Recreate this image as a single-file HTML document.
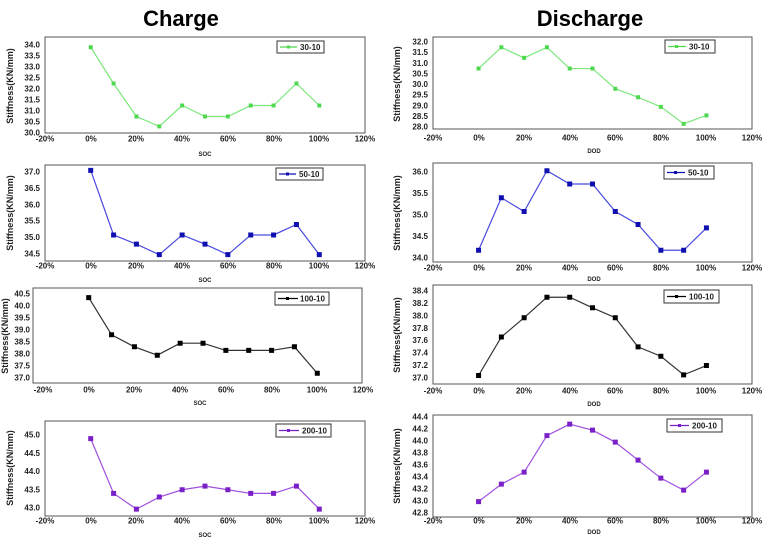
<!DOCTYPE html>
<html><head><meta charset="utf-8"><style>
html,body{margin:0;padding:0;background:#fff}
svg text{font-family:"Liberation Sans",sans-serif;font-weight:bold;fill:#222}
.t{font-size:8px}
.yl{text-anchor:end;dominant-baseline:central}
.xl{text-anchor:middle;dominant-baseline:central}
.ttl{font-size:22px;text-anchor:middle;fill:#000}
.ax{font-size:9px;text-anchor:middle}
.lg{font-size:8px}
</style></head><body>
<svg width="780" height="544" viewBox="0 0 780 544" xmlns="http://www.w3.org/2000/svg">
<text class="ttl" x="181" y="26">Charge</text>
<text class="ttl" x="590" y="26">Discharge</text>

<!-- L1 -->
<rect x="45" y="37" width="320" height="96" fill="none" stroke="#555" stroke-width="1"/>
<svg x="45" y="37" width="320" height="96" viewBox="-20 -34.364 140 4.364" preserveAspectRatio="none" overflow="visible">
<polyline fill="none" stroke="#7be87b" stroke-width="1.2" vector-effect="non-scaling-stroke" points="0,-33.9 10,-32.25 20,-30.75 30,-30.3 40,-31.25 50,-30.75 60,-30.75 70,-31.25 80,-31.25 90,-32.25 100,-31.25"/>
<path fill="none" stroke="#4fd84f" stroke-width="4" stroke-linecap="square" vector-effect="non-scaling-stroke" d="M0 -33.9h0M10 -32.25h0M20 -30.75h0M30 -30.3h0M40 -31.25h0M50 -30.75h0M60 -30.75h0M70 -31.25h0M80 -31.25h0M90 -32.25h0M100 -31.25h0"/>
</svg>
<g class="t yl"><text x="40" y="45">34.0</text><text x="40" y="56">33.5</text><text x="40" y="67">33.0</text><text x="40" y="78">32.5</text><text x="40" y="89">32.0</text><text x="40" y="100">31.5</text><text x="40" y="111">31.0</text><text x="40" y="122">30.5</text><text x="40" y="133">30.0</text></g>
<g class="t xl"><text x="45" y="139">-20%</text><text x="91" y="139">0%</text><text x="136" y="139">20%</text><text x="182" y="139">40%</text><text x="228" y="139">60%</text><text x="274" y="139">80%</text><text x="319" y="139">100%</text><text x="365" y="139">120%</text></g>
<text class="t ax" x="205" y="156" style="font-size:6px">SOC</text>
<text class="ax" transform="translate(13,86) rotate(-90)">Stiffness(KN/mm)</text>
<rect x="277" y="41" width="47" height="12" fill="#fff" stroke="#333"/>
<line x1="280" y1="47" x2="297" y2="47" stroke="#4fd84f" stroke-width="1.2"/><rect x="287" y="45.5" width="3" height="3" fill="#4fd84f"/>
<text class="lg" x="300" y="50">30-10</text>

<!-- L2 -->
<rect x="45" y="165" width="320" height="96" fill="none" stroke="#555"/>
<svg x="45" y="165" width="320" height="96" viewBox="-20 -37.213 140 2.926" preserveAspectRatio="none" overflow="visible">
<polyline fill="none" stroke="#4a4ae0" stroke-width="1.2" vector-effect="non-scaling-stroke" points="0,-37.05 10,-35.08 20,-34.8 30,-34.48 40,-35.08 50,-34.8 60,-34.48 70,-35.08 80,-35.08 90,-35.4 100,-34.48"/>
<path fill="none" stroke="#1010b0" stroke-width="5" stroke-linecap="square" vector-effect="non-scaling-stroke" d="M0 -37.05h0M10 -35.08h0M20 -34.8h0M30 -34.48h0M40 -35.08h0M50 -34.8h0M60 -34.48h0M70 -35.08h0M80 -35.08h0M90 -35.4h0M100 -34.48h0"/>
</svg>
<g class="t yl"><text x="40" y="172">37.0</text><text x="40" y="188.4">36.5</text><text x="40" y="204.8">36.0</text><text x="40" y="221.2">35.5</text><text x="40" y="237.6">35.0</text><text x="40" y="254">34.5</text></g>
<g class="t xl"><text x="45" y="266">-20%</text><text x="91" y="266">0%</text><text x="136" y="266">20%</text><text x="182" y="266">40%</text><text x="228" y="266">60%</text><text x="274" y="266">80%</text><text x="319" y="266">100%</text><text x="365" y="266">120%</text></g>
<text class="t ax" x="205" y="282" style="font-size:6px">SOC</text>
<text class="ax" transform="translate(13,213) rotate(-90)">Stiffness(KN/mm)</text>
<rect x="276" y="168" width="47" height="12" fill="#fff" stroke="#333"/>
<line x1="279" y1="174" x2="296" y2="174" stroke="#1010b0" stroke-width="1.2"/><rect x="286" y="172.5" width="3" height="3" fill="#1010b0"/>
<text class="lg" x="299" y="177">50-10</text>

<!-- L3 -->
<rect x="33" y="288" width="329" height="95" fill="none" stroke="#555"/>
<svg x="43" y="288" width="320" height="95" viewBox="-20 -40.75 140 3.958" preserveAspectRatio="none" overflow="visible">
<polyline fill="none" stroke="#333" stroke-width="1.2" vector-effect="non-scaling-stroke" points="0,-40.35 10,-38.8 20,-38.3 30,-37.95 40,-38.45 50,-38.45 60,-38.15 70,-38.15 80,-38.15 90,-38.3 100,-37.2"/>
<path fill="none" stroke="#000" stroke-width="5" stroke-linecap="square" vector-effect="non-scaling-stroke" d="M0 -40.35h0M10 -38.8h0M20 -38.3h0M30 -37.95h0M40 -38.45h0M50 -38.45h0M60 -38.15h0M70 -38.15h0M80 -38.15h0M90 -38.3h0M100 -37.2h0"/>
</svg>
<g class="t yl"><text x="30" y="294">40.5</text><text x="30" y="306">40.0</text><text x="30" y="318">39.5</text><text x="30" y="330">39.0</text><text x="30" y="342">38.5</text><text x="30" y="354">38.0</text><text x="30" y="366">37.5</text><text x="30" y="378">37.0</text></g>
<g class="t xl"><text x="43" y="390">-20%</text><text x="89" y="390">0%</text><text x="134" y="390">20%</text><text x="180" y="390">40%</text><text x="226" y="390">60%</text><text x="272" y="390">80%</text><text x="317" y="390">100%</text><text x="363" y="390">120%</text></g>
<text class="t ax" x="200" y="405" style="font-size:6px">SOC</text>
<text class="ax" transform="translate(8,336) rotate(-90)">Stiffness(KN/mm)</text>
<rect x="275" y="292" width="54" height="13" fill="#fff" stroke="#333"/>
<line x1="278" y1="298.5" x2="298" y2="298.5" stroke="#000" stroke-width="1.2"/><rect x="286" y="297" width="3" height="3" fill="#000"/>
<text class="lg" x="300" y="301.5">100-10</text>

<!-- L4 -->
<rect x="45" y="421" width="320" height="95" fill="none" stroke="#555"/>
<svg x="45" y="421" width="320" height="95" viewBox="-20 -45.384 140 2.603" preserveAspectRatio="none" overflow="visible">
<polyline fill="none" stroke="#a050e0" stroke-width="1.2" vector-effect="non-scaling-stroke" points="0,-44.9 10,-43.4 20,-42.97 30,-43.3 40,-43.5 50,-43.6 60,-43.5 70,-43.4 80,-43.4 90,-43.6 100,-42.97"/>
<path fill="none" stroke="#7a20c8" stroke-width="5" stroke-linecap="square" vector-effect="non-scaling-stroke" d="M0 -44.9h0M10 -43.4h0M20 -42.97h0M30 -43.3h0M40 -43.5h0M50 -43.6h0M60 -43.5h0M70 -43.4h0M80 -43.4h0M90 -43.6h0M100 -42.97h0"/>
</svg>
<g class="t yl"><text x="40" y="435">45.0</text><text x="40" y="453.3">44.5</text><text x="40" y="471.5">44.0</text><text x="40" y="489.8">43.5</text><text x="40" y="508">43.0</text></g>
<g class="t xl"><text x="45" y="521">-20%</text><text x="91" y="521">0%</text><text x="136" y="521">20%</text><text x="182" y="521">40%</text><text x="228" y="521">60%</text><text x="274" y="521">80%</text><text x="319" y="521">100%</text><text x="365" y="521">120%</text></g>
<text class="t ax" x="205" y="537" style="font-size:6px">SOC</text>
<text class="ax" transform="translate(13,468) rotate(-90)">Stiffness(KN/mm)</text>
<rect x="276" y="424" width="55" height="13" fill="#fff" stroke="#333"/>
<line x1="279" y1="430.5" x2="299" y2="430.5" stroke="#7a20c8" stroke-width="1.2"/><rect x="287" y="429" width="3" height="3" fill="#7a20c8"/>
<text class="lg" x="302" y="433.5">200-10</text>

<!-- R1 -->
<rect x="433" y="37" width="319" height="92" fill="none" stroke="#555"/>
<svg x="433" y="37" width="319" height="92" viewBox="-20 -32.235 140 4.329" preserveAspectRatio="none" overflow="visible">
<polyline fill="none" stroke="#7be87b" stroke-width="1.2" vector-effect="non-scaling-stroke" points="0,-30.75 10,-31.75 20,-31.25 30,-31.75 40,-30.75 50,-30.75 60,-29.8 70,-29.4 80,-28.95 90,-28.15 100,-28.55"/>
<path fill="none" stroke="#4fd84f" stroke-width="4" stroke-linecap="square" vector-effect="non-scaling-stroke" d="M0 -30.75h0M10 -31.75h0M20 -31.25h0M30 -31.75h0M40 -30.75h0M50 -30.75h0M60 -29.8h0M70 -29.4h0M80 -28.95h0M90 -28.15h0M100 -28.55h0"/>
</svg>
<g class="t yl"><text x="428" y="42">32.0</text><text x="428" y="52.6">31.5</text><text x="428" y="63.3">31.0</text><text x="428" y="73.9">30.5</text><text x="428" y="84.5">30.0</text><text x="428" y="95.1">29.5</text><text x="428" y="105.8">29.0</text><text x="428" y="116.4">28.5</text><text x="428" y="127">28.0</text></g>
<g class="t xl"><text x="433" y="138">-20%</text><text x="479" y="138">0%</text><text x="524" y="138">20%</text><text x="570" y="138">40%</text><text x="615" y="138">60%</text><text x="661" y="138">80%</text><text x="706" y="138">100%</text><text x="752" y="138">120%</text></g>
<text class="t ax" x="594" y="153" style="font-size:6px">DOD</text>
<text class="ax" transform="translate(400,84) rotate(-90)">Stiffness(KN/mm)</text>
<rect x="665" y="40" width="50" height="13" fill="#fff" stroke="#333"/>
<line x1="668" y1="46.5" x2="686" y2="46.5" stroke="#4fd84f" stroke-width="1.2"/><rect x="675" y="45" width="3" height="3" fill="#4fd84f"/>
<text class="lg" x="689" y="49.5">30-10</text>

<!-- R2 -->
<rect x="433" y="163" width="319" height="99" fill="none" stroke="#555"/>
<svg x="433" y="163" width="319" height="99" viewBox="-20 -36.209 140 2.302" preserveAspectRatio="none" overflow="visible">
<polyline fill="none" stroke="#4a4ae0" stroke-width="1.2" vector-effect="non-scaling-stroke" points="0,-34.18 10,-35.4 20,-35.08 30,-36.03 40,-35.72 50,-35.72 60,-35.08 70,-34.78 80,-34.18 90,-34.18 100,-34.7"/>
<path fill="none" stroke="#1010b0" stroke-width="5" stroke-linecap="square" vector-effect="non-scaling-stroke" d="M0 -34.18h0M10 -35.4h0M20 -35.08h0M30 -36.03h0M40 -35.72h0M50 -35.72h0M60 -35.08h0M70 -34.78h0M80 -34.18h0M90 -34.18h0M100 -34.7h0"/>
</svg>
<g class="t yl"><text x="428" y="172">36.0</text><text x="428" y="193.5">35.5</text><text x="428" y="215">35.0</text><text x="428" y="236.5">34.5</text><text x="428" y="258">34.0</text></g>
<g class="t xl"><text x="433" y="268">-20%</text><text x="479" y="268">0%</text><text x="524" y="268">20%</text><text x="570" y="268">40%</text><text x="615" y="268">60%</text><text x="661" y="268">80%</text><text x="706" y="268">100%</text><text x="752" y="268">120%</text></g>
<text class="t ax" x="594" y="281" style="font-size:6px">DOD</text>
<text class="ax" transform="translate(400,213) rotate(-90)">Stiffness(KN/mm)</text>
<rect x="664" y="166" width="50" height="13" fill="#fff" stroke="#333"/>
<line x1="667" y1="172.5" x2="685" y2="172.5" stroke="#1010b0" stroke-width="1.2"/><rect x="674" y="171" width="3" height="3" fill="#1010b0"/>
<text class="lg" x="688" y="175.5">50-10</text>

<!-- R3 -->
<rect x="433" y="285" width="319" height="99" fill="none" stroke="#555"/>
<svg x="433" y="285" width="319" height="99" viewBox="-20 -38.497 140 1.594" preserveAspectRatio="none" overflow="visible">
<polyline fill="none" stroke="#333" stroke-width="1.2" vector-effect="non-scaling-stroke" points="0,-37.04 10,-37.66 20,-37.97 30,-38.3 40,-38.3 50,-38.13 60,-37.97 70,-37.5 80,-37.35 90,-37.05 100,-37.2"/>
<path fill="none" stroke="#000" stroke-width="5" stroke-linecap="square" vector-effect="non-scaling-stroke" d="M0 -37.04h0M10 -37.66h0M20 -37.97h0M30 -38.3h0M40 -38.3h0M50 -38.13h0M60 -37.97h0M70 -37.5h0M80 -37.35h0M90 -37.05h0M100 -37.2h0"/>
</svg>
<g class="t yl"><text x="428" y="291">38.4</text><text x="428" y="303.4">38.2</text><text x="428" y="315.9">38.0</text><text x="428" y="328.3">37.8</text><text x="428" y="340.7">37.6</text><text x="428" y="353.1">37.4</text><text x="428" y="365.6">37.2</text><text x="428" y="378">37.0</text></g>
<g class="t xl"><text x="433" y="391">-20%</text><text x="479" y="391">0%</text><text x="524" y="391">20%</text><text x="570" y="391">40%</text><text x="615" y="391">60%</text><text x="661" y="391">80%</text><text x="706" y="391">100%</text><text x="752" y="391">120%</text></g>
<text class="t ax" x="594" y="406" style="font-size:6px">DOD</text>
<text class="ax" transform="translate(400,335) rotate(-90)">Stiffness(KN/mm)</text>
<rect x="664" y="290" width="55" height="13" fill="#fff" stroke="#333"/>
<line x1="667" y1="296.5" x2="686" y2="296.5" stroke="#000" stroke-width="1.2"/><rect x="675" y="295" width="3" height="3" fill="#000"/>
<text class="lg" x="689" y="299.5">100-10</text>

<!-- R4 -->
<rect x="433" y="415" width="319" height="102" fill="none" stroke="#555"/>
<svg x="433" y="415" width="319" height="102" viewBox="-20 -44.433 140 1.7" preserveAspectRatio="none" overflow="visible">
<polyline fill="none" stroke="#a050e0" stroke-width="1.2" vector-effect="non-scaling-stroke" points="0,-42.99 10,-43.28 20,-43.48 30,-44.09 40,-44.28 50,-44.18 60,-43.98 70,-43.68 80,-43.38 90,-43.18 100,-43.48"/>
<path fill="none" stroke="#7a20c8" stroke-width="5" stroke-linecap="square" vector-effect="non-scaling-stroke" d="M0 -42.99h0M10 -43.28h0M20 -43.48h0M30 -44.09h0M40 -44.28h0M50 -44.18h0M60 -43.98h0M70 -43.68h0M80 -43.38h0M90 -43.18h0M100 -43.48h0"/>
</svg>
<g class="t yl"><text x="428" y="417">44.4</text><text x="428" y="429">44.2</text><text x="428" y="441">44.0</text><text x="428" y="453">43.8</text><text x="428" y="465">43.6</text><text x="428" y="477">43.4</text><text x="428" y="489">43.2</text><text x="428" y="501">43.0</text><text x="428" y="513">42.8</text></g>
<g class="t xl"><text x="433" y="521">-20%</text><text x="479" y="521">0%</text><text x="524" y="521">20%</text><text x="570" y="521">40%</text><text x="615" y="521">60%</text><text x="661" y="521">80%</text><text x="706" y="521">100%</text><text x="752" y="521">120%</text></g>
<text class="t ax" x="594" y="534" style="font-size:6px">DOD</text>
<text class="ax" transform="translate(400,466) rotate(-90)">Stiffness(KN/mm)</text>
<rect x="667" y="419" width="55" height="13" fill="#fff" stroke="#333"/>
<line x1="670" y1="425.5" x2="689" y2="425.5" stroke="#7a20c8" stroke-width="1.2"/><rect x="678" y="424" width="3" height="3" fill="#7a20c8"/>
<text class="lg" x="692" y="428.5">200-10</text>
</svg>
</body></html>
